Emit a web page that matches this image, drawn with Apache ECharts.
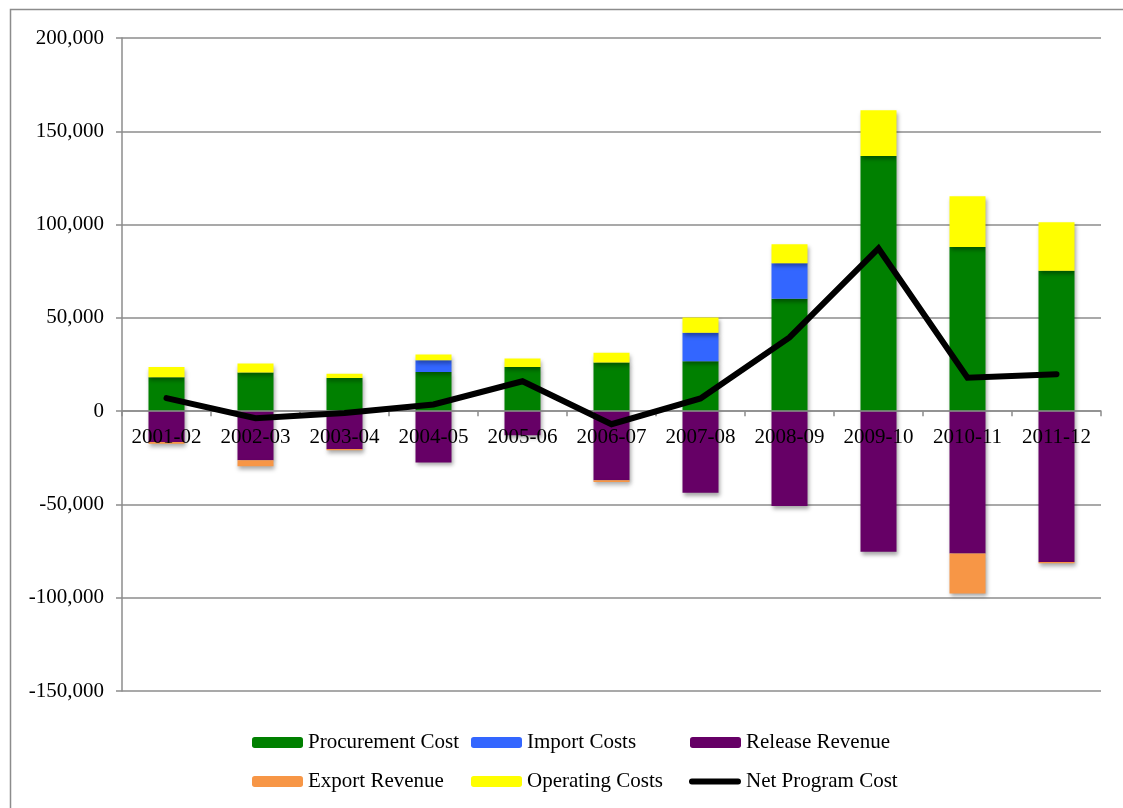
<!DOCTYPE html>
<html>
<head>
<meta charset="utf-8">
<script src="https://cdn.jsdelivr.net/npm/echarts@6/dist/echarts.min.js"></script>
<style>
html,body{margin:0;padding:0;background:#fff;}
#chart{width:1123px;height:808px;}
</style>
</head>
<body>
<div id="chart"></div>
<script>
var categories = ['2001-02','2002-03','2003-04','2004-05','2005-06','2006-07','2007-08','2008-09','2009-10','2010-11','2011-12'];
var procurementCost = [18200, 20700, 17800, 21000, 23700, 26100, 26800, 60200, 136700, 88000, 75200];
var importCosts     = [0, 0, 0, 6300, 0, 0, 15200, 19100, 0, 0, 0];
var releaseRevenue  = [-16500, -26300, -20300, -27500, -12900, -37000, -43800, -50900, -75400, -76300, -80800];
var exportRevenue   = [-1000, -3200, -700, 0, 0, -1000, 0, 0, 0, -21400, -700];
var operatingCosts  = [5400, 4800, 2200, 3100, 4500, 5200, 8200, 10200, 24600, 27200, 26100];
var netProgramCost  = [7000, -3800, -1000, 3600, 16000, -7000, 6800, 39500, 87200, 17900, 19800];
var yMin = -150000, yMax = 200000, yStep = 50000;

var FONT = '"Liberation Serif", "Times New Roman", serif';
var GRAY = '#8c8c8c';

function fmt(v){
  var s = Math.abs(v).toString().replace(/\B(?=(\d{3})+(?!\d))/g, ',');
  return (v < 0 ? '-' : '') + s;
}

var shadow = {shadowColor:'rgba(0,0,0,0.35)', shadowBlur:4, shadowOffsetX:1, shadowOffsetY:3};
function barSeries(name, data, color){
  return {
    name: name, type: 'bar', stack: 'total', data: data, barWidth: 36,
    itemStyle: Object.assign({color: color}, shadow),
    emphasis: {disabled: true}
  };
}

var capsule = 'path://M3,0 L51,0 A3,3 0 0 1 51,6 L3,6 A3,3 0 0 1 3,0 Z';
var legendDefs = [
  {name:'Procurement Cost', left:252, top:732},
  {name:'Import Costs', left:471, top:732},
  {name:'Release Revenue', left:690, top:732},
  {name:'Export Revenue', left:252, top:771},
  {name:'Operating Costs', left:471, top:771},
  {name:'Net Program Cost', left:689, top:771, icon:capsule, h:6, w:52}
];
var legends = legendDefs.map(function(d){
  var item = {name:d.name};
  if (d.icon) item.icon = d.icon;
  return {
    data:[item], left:d.left, top:d.top, orient:'horizontal',
    itemWidth:d.w || 51, itemHeight:d.h || 11, padding:0,
    textStyle:{fontFamily:FONT, fontSize:21, color:'#000'},
    selectedMode:false
  };
});

var gridTop = 38, gridBottom = 117, plotH = 808 - gridTop - gridBottom;
var zeroOffset = -plotH * (0 - yMin) / (yMax - yMin);

var chart = echarts.init(document.getElementById('chart'), null, {renderer:'canvas'});
chart.setOption({
  animation:false,
  backgroundColor:'#fff',
  graphic:[{
    type:'rect', shape:{x:10.5, y:9.5, width:1300, height:1000},
    style:{fill:null, stroke:GRAY, lineWidth:1.5}, silent:true
  }],
  grid:{left:122, right:22, top:gridTop, bottom:gridBottom, containLabel:false},
  legend: legends,
  xAxis:{
    type:'category', data:categories, z:3, position:'bottom', offset:zeroOffset,
    axisLine:{onZero:false, lineStyle:{color:GRAY, width:1.5}},
    axisTick:{show:true, length:5, alignWithLabel:false, lineStyle:{color:GRAY, width:1.5}},
    axisLabel:{fontFamily:FONT, fontSize:21, color:'#000', margin:16, interval:0},
    splitLine:{show:false}
  },
  yAxis:{
    type:'value', min:yMin, max:yMax, interval:yStep,
    axisLine:{show:true, lineStyle:{color:GRAY, width:1.5}},
    axisTick:{show:true, length:6, lineStyle:{color:GRAY, width:1.5}},
    axisLabel:{fontFamily:FONT, fontSize:21, color:'#000', margin:18, formatter:fmt},
    splitLine:{show:true, lineStyle:{color:GRAY, width:1.5}}
  },
  series:[
    barSeries('Procurement Cost', procurementCost, '#008000'),
    barSeries('Import Costs', importCosts, '#3366FF'),
    barSeries('Release Revenue', releaseRevenue, '#660066'),
    barSeries('Export Revenue', exportRevenue, '#F79646'),
    barSeries('Operating Costs', operatingCosts, '#FFFF00'),
    {
      name:'Net Program Cost', type:'line', data:netProgramCost, z:5,
      symbol:'none', showSymbol:false,
      lineStyle:{color:'#000', width:6, cap:'round', join:'miter'},
      itemStyle:{color:'#000'},
      emphasis:{disabled:true}
    }
  ]
});
</script>
</body>
</html>
